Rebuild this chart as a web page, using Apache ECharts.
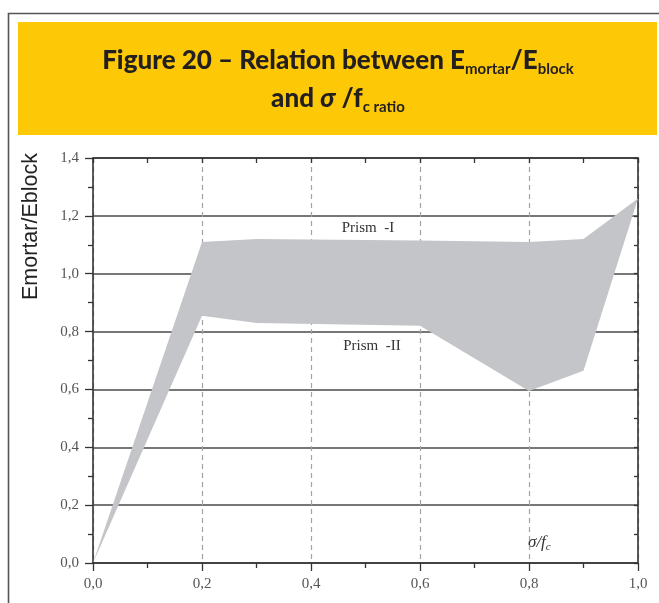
<!DOCTYPE html>
<html>
<head>
<meta charset="utf-8">
<script src="https://cdn.jsdelivr.net/npm/echarts@6/dist/echarts.min.js"></script>
<style>
  html, body { margin: 0; padding: 0; background: #fff; }
  #chart { width: 659px; height: 603px; }
</style>
</head>
<body>
<div id="chart"></div>
<script>
// Stress ratio σ/fc and the two envelope curves of Emortar/Eblock
const stressRatio = [0.0, 0.2, 0.3, 0.6, 0.8, 0.9, 1.0];
const prismI  = [0.0, 1.11, 1.12, 1.115, 1.11, 1.12, 1.26];   // upper bound
const prismII = [0.0, 0.855, 0.83, 0.82, 0.595, 0.665, 1.26]; // lower bound
const xTicks = [0.0, 0.2, 0.4, 0.6, 0.8, 1.0];
const yTicks = [0.0, 0.2, 0.4, 0.6, 0.8, 1.0, 1.2, 1.4];

const chart = echarts.init(document.getElementById('chart'), null, { renderer: 'canvas' });

const fmt = v => v.toFixed(1).replace('.', ',');
const axisColor = '#333';
const serif = 'Liberation Serif';

const baseX = {
  type: 'value', min: xTicks[0], max: xTicks[xTicks.length - 1], interval: 0.2,
  axisLine: { show: true, onZero: false, lineStyle: { color: axisColor, width: 1.6 } },
  minorTick: { show: true, splitNumber: 2, length: 5, lineStyle: { color: axisColor, width: 1.3 } }
};
const baseY = {
  type: 'value', min: yTicks[0], max: yTicks[yTicks.length - 1], interval: 0.2,
  axisLine: { show: true, onZero: false, lineStyle: { color: axisColor, width: 1.6 } },
  minorTick: { show: true, splitNumber: 2, length: 5, lineStyle: { color: axisColor, width: 1.3 } }
};

const titleFont = 'Lato';
const ink = '#231f20';

chart.setOption({
  animation: false,
  backgroundColor: '#fff',
  grid: { left: 93, right: 21, top: 158, bottom: 40, containLabel: false },
  xAxis: [
    Object.assign({}, baseX, {
      position: 'bottom',
      axisTick: { show: true, length: 8, lineStyle: { color: axisColor, width: 1.3 } },
      axisLabel: { formatter: fmt, color: '#555', fontFamily: serif, fontSize: 15, margin: 14 },
      splitLine: { show: true, lineStyle: { type: [5, 4], color: '#a3a3a3', width: 1.2 } }
    }),
    Object.assign({}, baseX, {
      position: 'top',
      axisTick: { show: true, inside: true, length: 5, lineStyle: { color: axisColor, width: 1.3 } },
      minorTick: { show: true, splitNumber: 2, length: 5, lineStyle: { color: axisColor, width: 1.3 } },
      axisLabel: { show: false },
      splitLine: { show: false }
    })
  ],
  yAxis: [
    Object.assign({}, baseY, {
      position: 'left',
      axisTick: { show: true, length: 8, lineStyle: { color: axisColor, width: 1.3 } },
      axisLabel: { formatter: fmt, color: '#555', fontFamily: serif, fontSize: 15, margin: 14 },
      splitLine: { show: true, lineStyle: { type: 'solid', color: '#4a4a4a', width: 1.5 } }
    }),
    Object.assign({}, baseY, {
      position: 'right',
      axisTick: { show: true, inside: true, length: 4, lineStyle: { color: axisColor, width: 1.3 } },
      minorTick: { show: true, splitNumber: 2, length: 4, lineStyle: { color: axisColor, width: 1.3 } },
      axisLabel: { show: false },
      splitLine: { show: false }
    })
  ],
  series: [{
    type: 'custom',
    xAxisIndex: 0,
    yAxisIndex: 0,
    data: [[stressRatio[0], prismI[0]]],
    renderItem: function (params, api) {
      // band between the Prism-I and Prism-II envelopes
      const pts = [];
      for (let i = 0; i < stressRatio.length; i++) pts.push(api.coord([stressRatio[i], prismI[i]]));
      for (let i = stressRatio.length - 1; i >= 0; i--) pts.push(api.coord([stressRatio[i], prismII[i]]));
      return { type: 'polygon', shape: { points: pts }, style: { fill: '#c4c5c8', stroke: null } };
    },
    z: 1
  }],
  graphic: [
    // page frame and title band
    { type: 'polyline', shape: { points: [[8.5, 620], [8.5, 13.5], [670, 13.5]] },
      style: { stroke: '#555', lineWidth: 1.6, fill: null }, silent: true },
    { type: 'rect', shape: { x: 18, y: 22, width: 639, height: 113 },
      style: { fill: '#fdc806' }, silent: true },
    { type: 'text', x: 338, y: 61,
      style: {
        text: '{m|Figure 20 – Relation between E}{s|mortar}{m|/E}{s|block}',
        align: 'center', verticalAlign: 'middle',
        rich: {
          m: { fontFamily: titleFont, fontWeight: 900, fontSize: 26, lineHeight: 32, fill: ink },
          s: { fontFamily: titleFont, fontWeight: 'bold', fontSize: 15, lineHeight: 15, verticalAlign: 'bottom', fill: ink }
        }
      }, silent: true },
    { type: 'text', x: 338, y: 99,
      style: {
        text: '{m|and }{i|σ}{m| /f}{s|c ratio}',
        align: 'center', verticalAlign: 'middle',
        rich: {
          m: { fontFamily: titleFont, fontWeight: 900, fontSize: 26, lineHeight: 32, fill: ink },
          i: { fontFamily: titleFont, fontWeight: 900, fontStyle: 'italic', fontSize: 26, lineHeight: 32, fill: ink },
          s: { fontFamily: titleFont, fontWeight: 'bold', fontSize: 15, lineHeight: 15, verticalAlign: 'bottom', fill: ink }
        }
      }, silent: true },
    // y-axis title
    { type: 'text', x: 31.5, y: 226.5, rotation: Math.PI / 2,
      style: { text: 'Emortar/Eblock', fontFamily: 'Liberation Sans', fontSize: 21.5, fill: '#222',
               align: 'center', verticalAlign: 'middle' }, silent: true },
    // curve annotations
    { type: 'text', x: 368, y: 228,
      style: { text: 'Prism  -I', fontFamily: serif, fontSize: 15, fill: '#333', align: 'center', verticalAlign: 'middle' }, silent: true },
    { type: 'text', x: 372, y: 346,
      style: { text: 'Prism  -II', fontFamily: serif, fontSize: 15, fill: '#333', align: 'center', verticalAlign: 'middle' }, silent: true },
    { type: 'text', x: 528, y: 543,
      style: {
        text: '{a|σ/f}{b|c}', align: 'left', verticalAlign: 'middle',
        rich: {
          a: { fontFamily: serif, fontStyle: 'italic', fontSize: 17, lineHeight: 20, fill: '#333' },
          b: { fontFamily: serif, fontStyle: 'italic', fontSize: 11, lineHeight: 11, verticalAlign: 'bottom', fill: '#333' }
        }
      }, silent: true }
  ]
});
</script>
</body>
</html>
